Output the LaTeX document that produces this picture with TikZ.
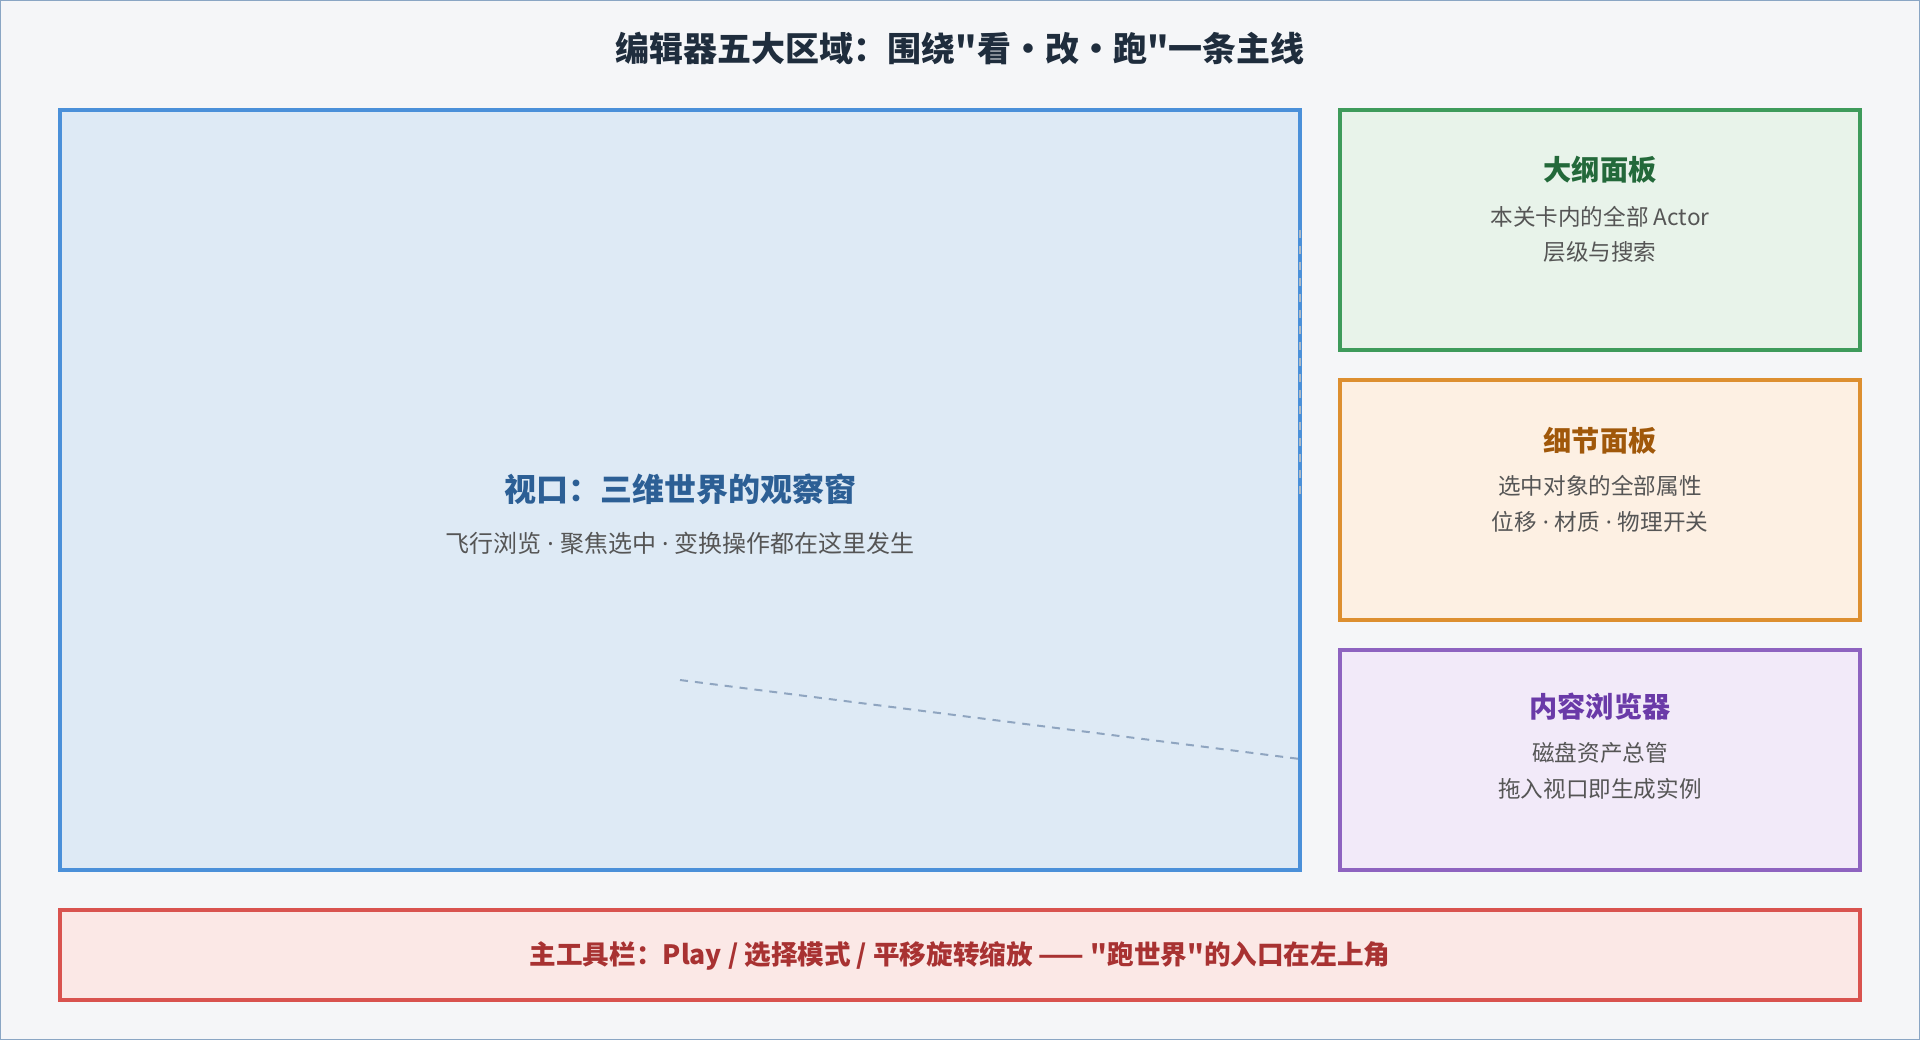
\documentclass[tikz,border=0pt]{standalone}
\usepackage{fontspec}
\newfontfamily\cjk{Noto Sans CJK SC}
\newfontfamily\latf{Noto Sans}
\newcommand\dotsep{{\latf\ ·\ }}
\definecolor{bg}{HTML}{F5F6F8}
\definecolor{outer}{HTML}{8AA6C4}
\definecolor{vpF}{HTML}{DEEAF5}
\definecolor{vpB}{HTML}{4A90D9}
\definecolor{vpT}{HTML}{2C5F95}
\definecolor{grF}{HTML}{E8F3EA}
\definecolor{grB}{HTML}{3E9B5B}
\definecolor{grT}{HTML}{23693A}
\definecolor{orF}{HTML}{FDF0E3}
\definecolor{orB}{HTML}{DD8F30}
\definecolor{orT}{HTML}{A0580A}
\definecolor{puF}{HTML}{F2EAF9}
\definecolor{puB}{HTML}{8E63C0}
\definecolor{puT}{HTML}{6A3AA8}
\definecolor{rdF}{HTML}{FBE8E6}
\definecolor{rdB}{HTML}{D9534F}
\definecolor{rdT}{HTML}{A83232}
\definecolor{ttl}{HTML}{1F2D3D}
\definecolor{sub}{HTML}{555555}
\definecolor{dashc}{HTML}{8FA5C0}
\definecolor{dashv}{HTML}{AAB8C6}
\begin{document}
\begin{tikzpicture}[x=0.5pt,y=-0.5pt,
  panel/.style={draw, line width=2pt, anchor=north west, inner sep=0pt, outer sep=0pt},
  maintitle/.style={font=\cjk\fontsize{17}{20}\selectfont\bfseries, text=ttl},
  vptitle/.style={font=\cjk\fontsize{16}{19}\selectfont\bfseries, text=vpT},
  vpsub/.style={font=\cjk\fontsize{12}{14}\selectfont, text=sub},
  ptitle/.style={font=\cjk\fontsize{14.1}{17}\selectfont\bfseries},
  pline/.style={font=\cjk\fontsize{11.3}{13}\selectfont, text=sub},
  tbtext/.style={font=\cjk\fontsize{13.3}{15}\selectfont\bfseries, text=rdT},
  leader/.style={draw=dashc, line width=1pt, dash pattern=on 4pt off 3.5pt},
  vleader/.style={draw=dashv, line width=1.2pt, dash pattern=on 4pt off 4pt}]
\fill[bg] (0,0) rectangle (1920,1040);
\draw[outer, line width=0.5pt] (0.5,0.5) rectangle (1919.5,1039.5);
\useasboundingbox (0,0) rectangle (1920,1040);

\node[maintitle] (title) at (960,48) {编辑器五大区域：围绕"看・改・跑"一条主线};

\node[panel, draw=vpB, fill=vpF, minimum width=620pt, minimum height=380pt] (vp) at (60,110) {};
\node[panel, draw=grB, fill=grF, minimum width=260pt, minimum height=120pt] (out) at (1340,110) {};
\node[panel, draw=orB, fill=orF, minimum width=260pt, minimum height=120pt] (det) at (1340,380) {};
\node[panel, draw=puB, fill=puF, minimum width=260pt, minimum height=110pt] (cb) at (1340,650) {};
\node[panel, draw=rdB, fill=rdF, minimum width=900pt, minimum height=45pt] (tb) at (60,910) {};

\coordinate (va) at (1300,230);
\coordinate (vb) at (1300,494);
\draw[vleader] (va) -- (vb);
\coordinate (da) at (680,680);
\coordinate (db) at (1300,759);
\draw[leader] (da) -- (db);

\node[vptitle] (vpt) at (680,489) {视口：三维世界的观察窗};
\node[vpsub] (vps) at (680,543) {飞行浏览\dotsep 聚焦选中\dotsep 变换操作都在这里发生};

\node[ptitle, text=grT] (outt) at (1600,170) {大纲面板};
\node[pline] (outa) at (1600,217) {本关卡内的全部 Actor};
\node[pline] (outb) at (1600,252) {层级与搜索};

\node[ptitle, text=orT] (dett) at (1600,441) {细节面板};
\node[pline] (deta) at (1600,486) {选中对象的全部属性};
\node[pline] (detb) at (1600,522) {位移\dotsep 材质\dotsep 物理开关};

\node[ptitle, text=puT] (cbt) at (1600,707) {内容浏览器};
\node[pline] (cba) at (1600,753) {磁盘资产总管};
\node[pline] (cbb) at (1600,789) {拖入视口即生成实例};

\node[tbtext] (tbt) at (960,956) {主工具栏：Play / 选择模式 / 平移旋转缩放 —— "跑世界"的入口在左上角};
\end{tikzpicture}
\end{document}
